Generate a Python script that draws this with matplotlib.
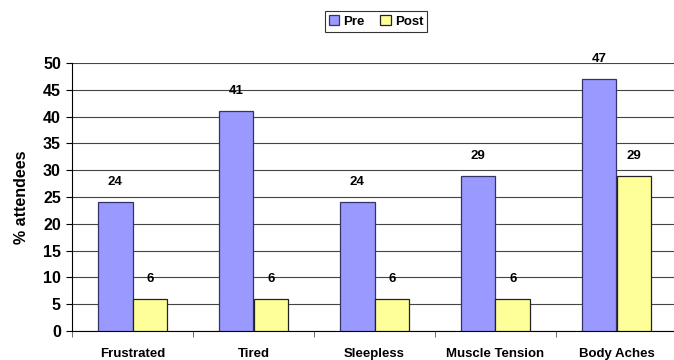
import matplotlib
matplotlib.use("Agg")
import matplotlib.pyplot as plt
import numpy as np

categories = ["Frustrated", "Tired", "Sleepless", "Muscle Tension", "Body Aches"]
pre_values = [24, 41, 24, 29, 47]
post_values = [6, 6, 6, 6, 29]
y_ticks = [0, 5, 10, 15, 20, 25, 30, 35, 40, 45, 50]

plt.rcParams['font.family'] = ['Liberation Sans', 'DejaVu Sans']

fig = plt.figure(figsize=(6.74, 3.60), dpi=100)
ax = fig.add_axes([72 / 674, 1 - 331 / 360, 605 / 674, (331 - 63) / 360])

x = np.arange(len(categories))
w = 0.285
pre_bars = ax.bar(x - w / 2, pre_values, w, color="#9999FF", edgecolor="#333366",
                  linewidth=0.9, label="Pre", zorder=3)
post_bars = ax.bar(x + w / 2, post_values, w, color="#FFFF99", edgecolor="#222222",
                   linewidth=0.9, label="Post", zorder=3)

for bars, vals in ((pre_bars, pre_values), (post_bars, post_values)):
    for b, v in zip(bars, vals):
        ax.annotate(f"{v}", (b.get_x() + b.get_width() / 2, v), xytext=(0, 10),
                    textcoords="offset points", ha="center", va="bottom",
                    fontsize=9.5, fontweight="bold")

ax.set_xlim(-0.5, len(categories) - 0.5)
ax.set_ylim(0, 50)
ax.set_yticks(y_ticks)
ax.set_yticklabels([str(t) for t in y_ticks], fontsize=11.5, fontweight="bold")
ax.yaxis.grid(True, color="#444444", linewidth=0.8, zorder=0)
ax.set_axisbelow(True)

# category labels centred, tick marks at group boundaries
ax.set_xticks(x)
ax.set_xticklabels(categories, fontsize=9.5, fontweight="bold")
ax.tick_params(axis="x", length=0, pad=12)
ax.set_xticks(np.arange(-0.5, len(categories) + 0.5, 1), minor=True)
ax.tick_params(axis="x", which="minor", length=4, direction="out", color="#555555")
ax.tick_params(axis="y", length=4, direction="out", pad=4)

ax.set_ylabel("% attendees", fontsize=11.5, fontweight="bold", labelpad=10)

for s in ("top", "right"):
    ax.spines[s].set_visible(False)
ax.spines["left"].set_color("black")
ax.spines["bottom"].set_color("black")

leg = fig.legend(loc="upper center", bbox_to_anchor=(376 / 674, 1 - 11 / 360), ncol=2,
                 frameon=True, fancybox=False, edgecolor="black",
                 prop={"size": 9.5, "weight": "bold"}, handlelength=0.8,
                 handleheight=0.8, handletextpad=0.3, columnspacing=1.2,
                 borderpad=0.3, borderaxespad=0)
leg.get_frame().set_linewidth(0.8)

fig.savefig("out.png", dpi=100)
